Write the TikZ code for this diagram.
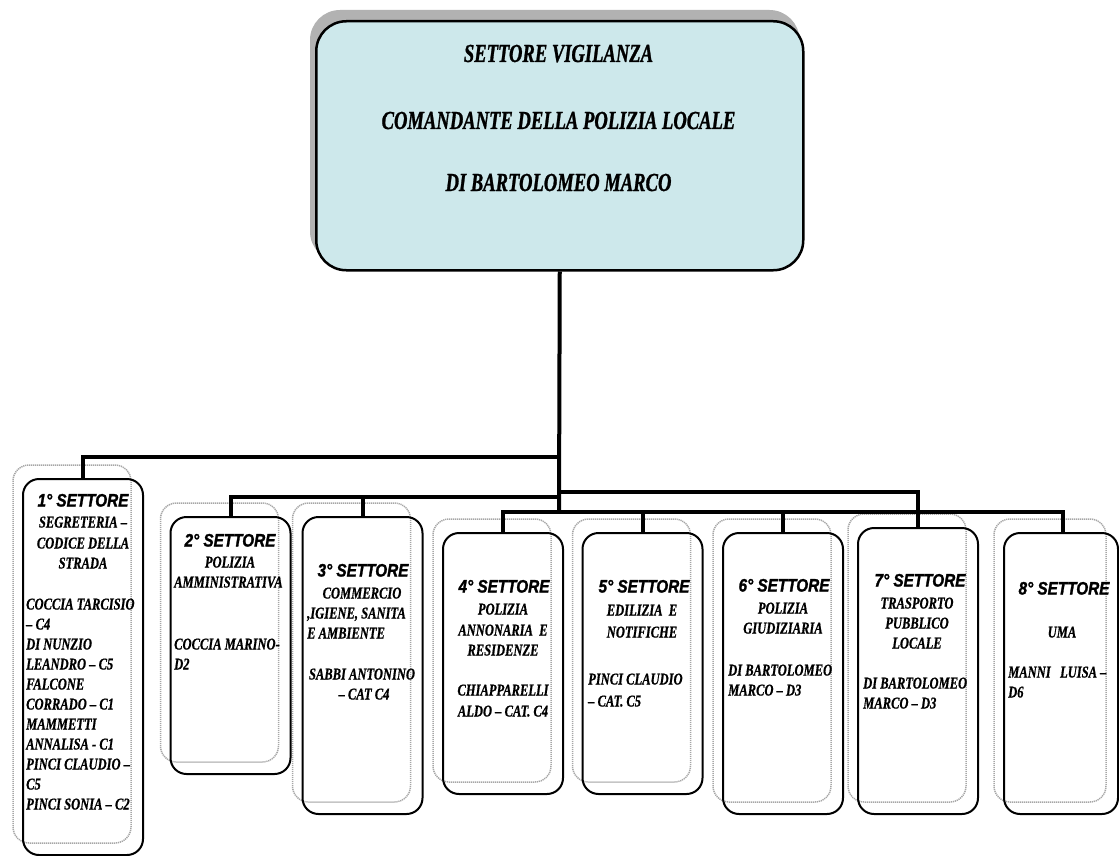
\documentclass[tikz,border=0pt]{standalone}
\usepackage{fontspec}
\usetikzlibrary{backgrounds}
\newfontfamily\romwide[FakeStretch=0.715, FakeBold=1, UprightFont={* Bold Italic}]{Liberation Serif}
\newfontfamily\romnarrow[FakeStretch=0.76, FakeBold=0.8, UprightFont={* Bold Italic}]{Liberation Serif}
\newfontfamily\sanscond[FakeStretch=0.85, FakeBold=1.5, UprightFont={* Bold Italic}]{Liberation Sans}
\definecolor{headfill}{RGB}{205,232,235}
\tikzset{
  conn/.style={line width=4pt},
  sector/.style={draw, line width=2pt, rounded corners=16pt, minimum width=120pt,
                 inner sep=0pt, anchor=north},
  ghost/.style={draw=gray!70, dash pattern=on 1.2pt off 0.8pt, line width=1.5pt,
                rounded corners=16pt},
  title/.style={font=\romwide\fontsize{26}{26}\selectfont,
                inner sep=0pt, anchor=base},
  head/.style={font=\sanscond\fontsize{18}{18}\selectfont,
               inner sep=0pt, anchor=base},
  txt/.style={font=\romnarrow\fontsize{16.5}{16.5}\selectfont,
              inner sep=0pt, anchor=base},
  txtl/.style={txt, anchor=base west}
}
\begin{document}
\begin{tikzpicture}[x=1pt,y=-1pt]
\useasboundingbox (0,0) rectangle (1119,856);

% head of the service
\node[draw, line width=2.5pt, fill=headfill, rounded corners=30pt,
      minimum width=487pt, minimum height=249pt, inner sep=0pt,
      anchor=north west] (top) at (315,20) {};
\begin{scope}[on background layer]
  \fill[gray!60, rounded corners=30pt]
    ([shift={(-5,-10)}]top.north west) rectangle ([shift={(-5,-10)}]top.south east);
\end{scope}
\node[title] (t0a) at (558.5,62) {SETTORE VIGILANZA};
\node[title] (t0b) at (558.5,129) {COMANDANTE DELLA POLIZIA LOCALE};
\node[title] (t0c) at (558.5,191) {DI BARTOLOMEO MARCO};

% the eight sectors
\node[sector, minimum height=376pt] (s1) at (83,478) {};
\node[sector, minimum height=257pt] (s2) at (230.5,516) {};
\node[sector, minimum height=297pt] (s3) at (362.5,516) {};
\node[sector, minimum height=261pt] (s4) at (503,532) {};
\node[sector, minimum height=261pt] (s5) at (642.5,532) {};
\node[sector, minimum height=281pt] (s6) at (783,532) {};
\node[sector, minimum height=286pt] (s7) at (918,527) {};
\node[sector, minimum height=281pt, minimum width=114pt] (s8) at (1061,532) {};

% dotted outlines behind each sector
\begin{scope}[on background layer]
  \foreach \s in {s1,s2,s3,s4,s5,s6,s7,s8}
    \draw[ghost] ([shift={(-9,-13)}]\s.north west) rectangle ([shift={(-13,-13)}]\s.south east);
\end{scope}

% connectors
\coordinate (jA) at (559,457);
\coordinate (jB) at (559,492);
\coordinate (jC) at (559,497);
\coordinate (jD) at (559,512);
\draw[conn] (top.south) -- (jD);
\draw[conn] (s1.north) |- (jA);
\draw[conn] (s2.north) |- (jC);
\draw[conn] (s3.north) -- (s3.north |- jC);
\draw[conn] (jB) -| (s7.north);
\draw[conn] (s4.north) |- (jD) -| ([xshift=2pt]s8.north);
\draw[conn] (s5.north) -- (s5.north |- jD);
\draw[conn] (s6.north) -- (s6.north |- jD);

% 1st sector
\node[head] (h1) at (83,506.5) {1° SETTORE};
\node[txt] (a1) at (83,527.5) {SEGRETERIA –};
\node[txt] (b1) at (83,548.5) {CODICE DELLA};
\node[txt] (c1) at (83,568.5) {STRADA};
\node[txtl] (n1a) at (26,609.5) {COCCIA TARCISIO};
\node[txtl] (n1b) at (26,629.5) {– C4};
\node[txtl] (n1c) at (26,649.5) {DI NUNZIO};
\node[txtl] (n1d) at (26,669.5) {LEANDRO – C5};
\node[txtl] (n1e) at (26,689.5) {FALCONE};
\node[txtl] (n1f) at (26,709.5) {CORRADO – C1};
\node[txtl] (n1g) at (26,729.5) {MAMMETTI};
\node[txtl] (n1h) at (26,749.5) {ANNALISA -  C1};
\node[txtl] (n1i) at (26,769.5) {PINCI CLAUDIO –};
\node[txtl] (n1j) at (26,789.5) {C5};
\node[txtl] (n1k) at (26,809.5) {PINCI SONIA – C2};

% 2nd sector
\node[head] (h2) at (230,546.5) {2° SETTORE};
\node[txt] (a2) at (230,567.5) {POLIZIA};
\node[txtl] (b2) at (174,587.5) {AMMINISTRATIVA};
\node[txtl] (n2a) at (174,649.5) {COCCIA MARINO-};
\node[txtl] (n2b) at (174,669.5) {D2};

% 3rd sector
\node[head] (h3) at (363,576.5) {3° SETTORE};
\node[txt] (a3) at (362,598.5) {COMMERCIO};
\node[txtl] (b3) at (307,618.5) {,IGIENE, SANITA};
\node[txtl] (c3) at (307,638.5) {E AMBIENTE};
\node[txt] (n3a) at (362,679.5) {SABBI ANTONINO};
\node[txt] (n3b) at (364,699.5) {– CAT C4};

% 4th sector
\node[head] (h4) at (504,592.5) {4° SETTORE};
\node[txt] (a4) at (503,614.5) {POLIZIA};
\node[txt] (b4) at (503,635.5) {ANNONARIA\ \ E};
\node[txt] (c4) at (503,655.5) {RESIDENZE};
\node[txt] (n4a) at (503,695.5) {CHIAPPARELLI};
\node[txt] (n4b) at (503,716.5) {ALDO – CAT. C4};

% 5th sector
\node[head] (h5) at (644,592.5) {5° SETTORE};
\node[txt] (a5) at (642,615.5) {EDILIZIA\ \ E};
\node[txt] (b5) at (642,637.5) {NOTIFICHE};
\node[txtl] (n5a) at (588,684.5) {PINCI CLAUDIO};
\node[txtl] (n5b) at (588,706.5) {– CAT. C5};

% 6th sector
\node[head] (h6) at (784,591.5) {6° SETTORE};
\node[txt] (a6) at (783,613.5) {POLIZIA};
\node[txt] (b6) at (783,633.5) {GIUDIZIARIA};
\node[txtl] (n6a) at (728,675.5) {DI BARTOLOMEO};
\node[txtl] (n6b) at (728,695.5) {MARCO – D3};

% 7th sector
\node[head] (h7) at (920,586.5) {7° SETTORE};
\node[txt] (a7) at (917,608.5) {TRASPORTO};
\node[txt] (b7) at (917,628.5) {PUBBLICO};
\node[txt] (c7) at (917,648.5) {LOCALE};
\node[txtl] (n7a) at (863,688.5) {DI BARTOLOMEO};
\node[txtl] (n7b) at (863,708.5) {MARCO – D3};

% 8th sector
\node[head] (h8) at (1064,594.5) {8° SETTORE};
\node[txt] (a8) at (1062,637.5) {UMA};
\node[txtl] (n8a) at (1008,677.5) {MANNI\ \ \ LUISA –};
\node[txtl] (n8b) at (1008,697.5) {D6};
\end{tikzpicture}
\end{document}
